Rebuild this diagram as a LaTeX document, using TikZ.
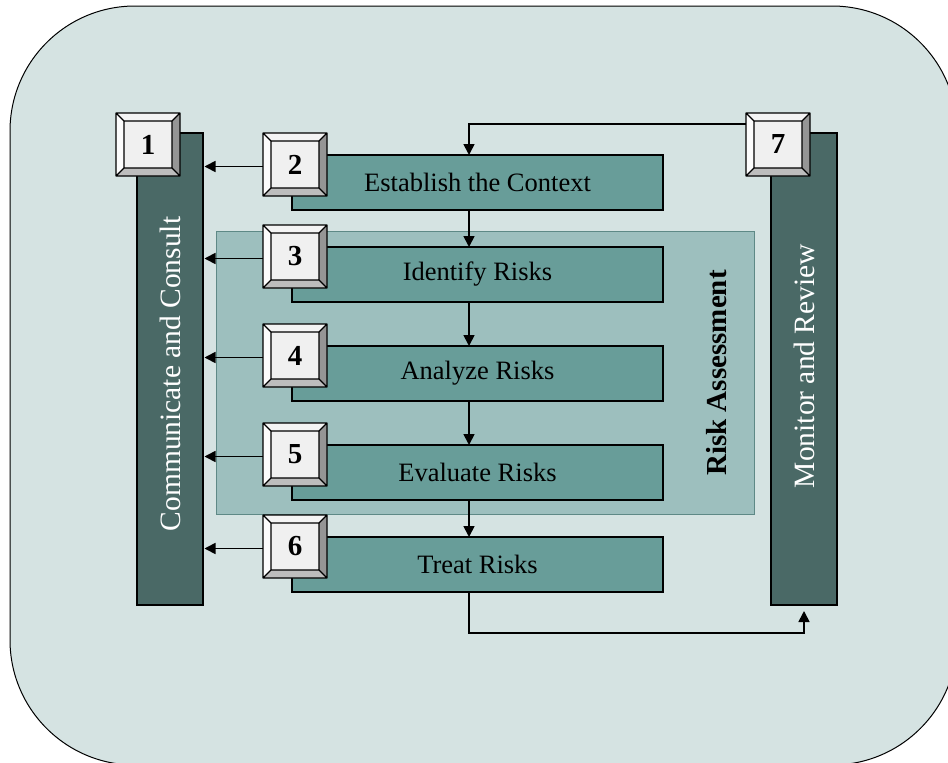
\documentclass[tikz,border=0pt]{standalone}
\usepackage{fontspec}
\setmainfont{Liberation Serif}
\usetikzlibrary{arrows.meta,calc}

\definecolor{framebg}{HTML}{D5E3E2}
\definecolor{bardark}{HTML}{4A6966}
\definecolor{stepfill}{HTML}{689D99}
\definecolor{panelfill}{HTML}{9DBFBE}
\definecolor{panelline}{HTML}{5E8986}
\definecolor{facegray}{HTML}{F0F0F0}
\definecolor{bevtopc}{HTML}{F4F4F4}
\definecolor{bevleftc}{HTML}{FCFCFC}
\definecolor{bevrightc}{HTML}{959595}
\definecolor{bevbottomc}{HTML}{BDBDBD}

\tikzset{
  sidebar/.style={draw=black, line width=1.2pt, fill=bardark, anchor=north west,
    minimum width=66pt, minimum height=472pt, inner sep=0pt, outer sep=0pt},
  sidetext/.style={rotate=90, text=white, font=\fontsize{29.5}{32}\selectfont, inner sep=0pt},
  stepbox/.style={draw=black, line width=1.5pt, fill=stepfill, anchor=north west,
    minimum width=371pt, minimum height=55pt, inner sep=0pt, outer sep=0pt,
    font=\fontsize{26.5}{30}\selectfont},
  panel/.style={draw=panelline, line width=1pt, fill=panelfill, anchor=north west,
    minimum width=538pt, minimum height=283pt, inner sep=0pt, outer sep=0pt},
  numouter/.style={anchor=north west, minimum width=64pt, minimum height=63pt,
    inner sep=0pt, outer sep=0pt},
  numtext/.style={font=\fontsize{29}{30}\selectfont\bfseries, inner sep=0pt},
  bevline/.style={draw=black, line width=1.3pt, line join=round},
  flow/.style={draw=black, line width=1.7pt, -{Triangle[length=11pt,width=11pt]}},
}

% beveled number tile: name, x, y, number
\newcommand\numtile[4]{%
  \node[numouter] (#1) at (#2,#3) {};
  \path (#1.north west) ++(8,8) coordinate (#1-i1)
        (#1.north east) ++(-8,8) coordinate (#1-i2)
        (#1.south east) ++(-8,-8) coordinate (#1-i3)
        (#1.south west) ++(8,-8) coordinate (#1-i4);
  \fill[bevtopc] (#1.north west) -- (#1.north east) -- (#1-i2) -- (#1-i1) -- cycle;
  \fill[bevrightc] (#1.north east) -- (#1.south east) -- (#1-i3) -- (#1-i2) -- cycle;
  \fill[bevbottomc] (#1.south east) -- (#1.south west) -- (#1-i4) -- (#1-i3) -- cycle;
  \fill[bevleftc] (#1.south west) -- (#1.north west) -- (#1-i1) -- (#1-i4) -- cycle;
  \fill[facegray] (#1-i1) rectangle (#1-i3);
  \draw[bevline] (#1.north west) rectangle (#1.south east)
        (#1-i1) rectangle (#1-i3)
        (#1.north west) -- (#1-i1) (#1.north east) -- (#1-i2)
        (#1.south east) -- (#1-i3) (#1.south west) -- (#1-i4);
  \node[numtext] (#1-num) at (#1.center) {#4};
}

\begin{document}
\begin{tikzpicture}[x=1pt,y=-1pt]
\useasboundingbox (0,0) rectangle (948,763);

% outer rounded frame
\begin{scope}
  \clip (0,0) rectangle (948,763);
  \draw[fill=framebg, line width=1pt, rounded corners=125pt] (10,6) rectangle (957,765);
\end{scope}

% risk assessment panel
\node[panel] (panel) at (216,231) {};
\node[rotate=90, font=\fontsize{29}{32}\selectfont\bfseries, inner sep=0pt] (ratext) at (717,373) {Risk Assessment};

% side bars
\node[sidebar] (bar1) at (137,133) {};
\node[sidetext] (bar1text) at ([yshift=-5pt]bar1.center) {Communicate and Consult};
\node[sidebar] (bar7) at (771,133) {};
\node[sidetext] (bar7text) at ([yshift=3pt]bar7.center) {Monitor and Review};

% process steps
\node[stepbox] (s2) at (292,155) {Establish the Context};
\node[stepbox] (s3) at (292,247) {Identify Risks};
\node[stepbox] (s4) at (292,346) {Analyze Risks};
\node[stepbox] (s5) at (292,445) {Evaluate Risks};
\node[stepbox] (s6) at (292,537) {Treat Risks};

% helper coordinates for the flow lines
\coordinate (ax) at (469,0);
\coordinate (c7) at (746,124);
\coordinate (rb) at (804,633);
\coordinate (rt) at (804,611);

% main flow
\draw[flow] (c7) -| (s2.north -| ax);
\draw[flow] (s2.south -| ax) -- (s3.north -| ax);
\draw[flow] (s3.south -| ax) -- (s4.north -| ax);
\draw[flow] (s4.south -| ax) -- (s5.north -| ax);
\draw[flow] (s5.south -| ax) -- (s6.north -| ax);
\draw[flow] (s6.south -| ax) |- (rb) -- (rt);

% number tiles
\numtile{b1}{116}{113}{1}
\numtile{b7}{746}{113}{7}
\numtile{b2}{263}{133}{2}
\numtile{b3}{263}{225}{3}
\numtile{b4}{263}{324}{4}
\numtile{b5}{263}{423}{5}
\numtile{b6}{263}{515}{6}

% links to communicate and consult
\foreach \b in {b2,b3,b4,b5,b6}
  \draw[flow, shorten >=1.5pt] ([yshift=-2pt]\b.west) -- ([yshift=-2pt]\b.west -| bar1.east);
\end{tikzpicture}
\end{document}
